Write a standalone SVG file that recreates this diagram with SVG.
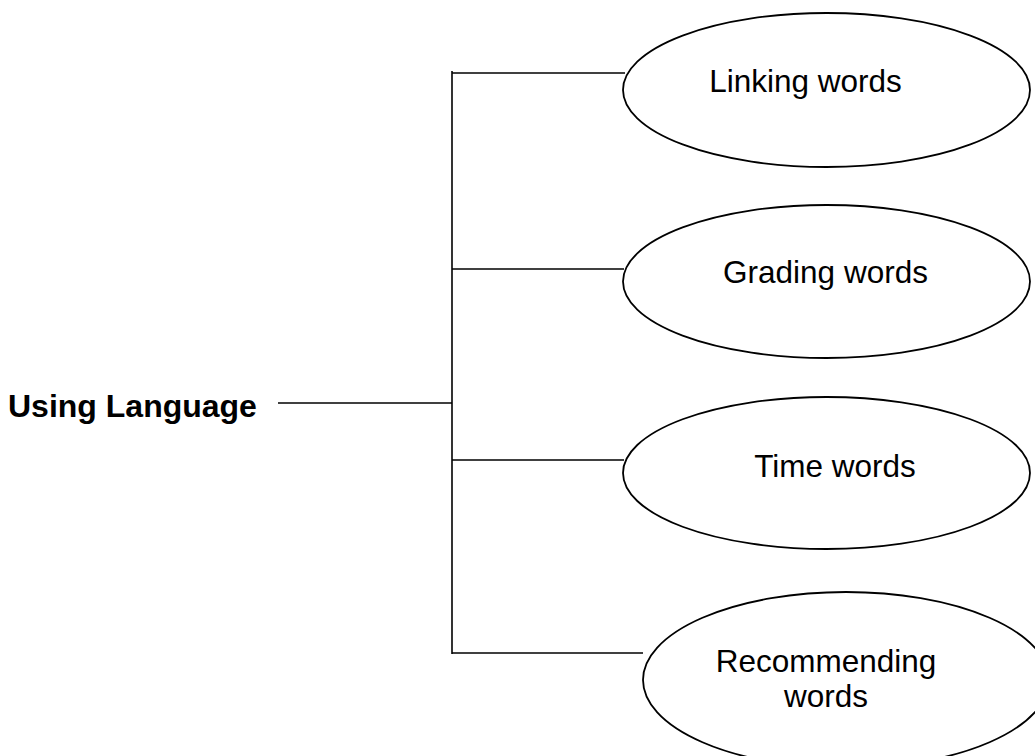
<svg xmlns="http://www.w3.org/2000/svg" width="1035" height="756" viewBox="0 0 1035 756">
<style>
.ell{fill:#fff;stroke:#000;stroke-width:1.8}
.lbl{font-family:"Liberation Sans",Arial,sans-serif;font-size:31.5px;fill:#000;text-anchor:middle}
.root{font-family:"Liberation Sans",Arial,sans-serif;font-size:32px;font-weight:bold;fill:#000}
.con{stroke:#000;stroke-width:1.6;fill:none}
</style>
<rect width="1035" height="756" fill="#fff"/>
<g id="connectors">
<line class="con" x1="452" y1="71" x2="452" y2="654"/>
<line class="con" x1="452" y1="73" x2="625" y2="73"/>
<line class="con" x1="452" y1="269" x2="624" y2="269"/>
<line class="con" x1="278" y1="403" x2="452" y2="403"/>
<line class="con" x1="452" y1="460" x2="624" y2="460"/>
<line class="con" x1="452" y1="653" x2="643" y2="653"/>
</g>
<g id="using-language">
<text class="root" x="8" y="417">Using Language</text>
</g>
<g id="linking-words">
<ellipse class="ell" cx="826.5" cy="90" rx="203.5" ry="77"/>
<text class="lbl" x="805.5" y="92">Linking words</text>
</g>
<g id="grading-words">
<ellipse class="ell" cx="826.5" cy="281.5" rx="203.5" ry="76.5"/>
<text class="lbl" x="825.5" y="283">Grading words</text>
</g>
<g id="time-words">
<ellipse class="ell" cx="826.5" cy="473" rx="203.5" ry="76"/>
<text class="lbl" x="835" y="477">Time words</text>
</g>
<g id="recommending-words">
<ellipse class="ell" cx="846" cy="680" rx="203" ry="88"/>
<text class="lbl" x="826" y="672">Recommending</text>
<text class="lbl" x="826" y="707">words</text>
</g>
</svg>
